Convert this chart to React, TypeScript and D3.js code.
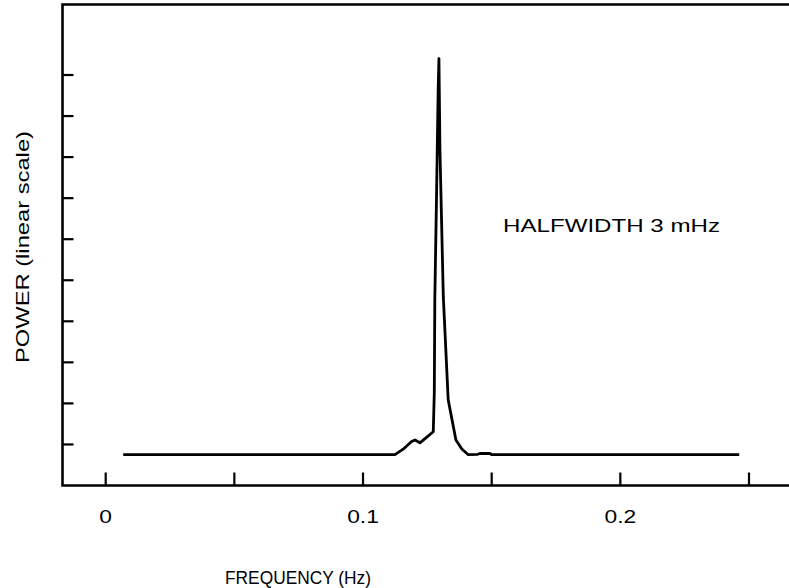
import React from "react";
import * as d3 from "d3";

// Power spectrum: frequency (Hz) vs power (linear scale, arbitrary units)
const frequency: number[] = [
  0.0068, 0.1124, 0.1159, 0.1189, 0.1202, 0.1221, 0.1248, 0.1273, 0.1277,
  0.1279, 0.1286, 0.1292, 0.1295, 0.1299, 0.1312, 0.1331, 0.1361, 0.1384,
  0.1409, 0.1446, 0.1454, 0.1493, 0.1501, 0.2462,
];
const power: number[] = [
  0.75, 0.75, 0.9, 1.07, 1.11, 1.04, 1.18, 1.31, 2.26,
  4.52, 7.19, 9.63, 10.4, 8.17, 4.6, 2.09, 1.11, 0.89,
  0.75, 0.76, 0.78, 0.78, 0.75, 0.75,
];

const xTicks: number[] = [0, 0.05, 0.1, 0.15, 0.2, 0.25];
const xTickLabels: string[] = ["0", "0.1", "0.2"];
const xLabelValues: number[] = [0, 0.1, 0.2];
const yTicks: number[] = [1, 2, 3, 4, 5, 6, 7, 8, 9, 10];

const annotation = "HALFWIDTH 3 mHz";
const xTitle = "FREQUENCY (Hz)";
const yTitle = "POWER (linear scale)";

const W = 789;
const H = 588;
const FONT = "'Liberation Sans', Arial, Helvetica, sans-serif";

export default function App() {
  const x = d3.scaleLinear().domain([0, 0.25]).range([105.7, 749]);
  const y = d3.scaleLinear().domain([0, 10]).range([485.5, 75]);

  const left = 62.5;
  const top = 4.5;
  const bottom = y(0);

  const pts = frequency.map((f, i) => [f, power[i]] as [number, number]);
  const line = d3
    .line<[number, number]>()
    .x((d) => x(d[0]))
    .y((d) => y(d[1]));

  return (
    <svg
      width={W}
      height={H}
      style={{ position: "absolute", left: 0, top: 0, background: "#fff" }}
    >
      <rect x={0} y={0} width={W} height={H} fill="#fff" />
      {/* frame: open on the right */}
      <path
        d={`M${W + 5},${top}H${left}V${bottom}H${W + 5}`}
        fill="none"
        stroke="#000"
        strokeWidth={2.6}
      />
      {xTicks.map((t) => (
        <line
          key={"xt" + t}
          x1={x(t)}
          x2={x(t)}
          y1={bottom}
          y2={bottom - 13}
          stroke="#000"
          strokeWidth={2.2}
        />
      ))}
      {yTicks.map((t) => (
        <line
          key={"yt" + t}
          x1={left}
          x2={left + 11}
          y1={y(t)}
          y2={y(t)}
          stroke="#000"
          strokeWidth={2.2}
        />
      ))}
      {xLabelValues.map((v, i) => (
        <text
          key={"xl" + v}
          transform={`translate(${x(v)},523) scale(1.2,1)`}
          textAnchor="middle"
          fontFamily={FONT}
          fontSize={19}
          fill="#000"
        >
          {xTickLabels[i]}
        </text>
      ))}
      <path
        d={line(pts) ?? ""}
        fill="none"
        stroke="#000"
        strokeWidth={2.8}
        strokeLinejoin="round"
      />
      <text
        x={503}
        y={232}
        fontFamily={FONT}
        fontSize={19}
        textLength={217}
        lengthAdjust="spacingAndGlyphs"
        fill="#000"
      >
        {annotation}
      </text>
      <text
        x={298}
        y={584}
        textAnchor="middle"
        fontFamily={FONT}
        fontSize={18}
        textLength={146}
        lengthAdjust="spacingAndGlyphs"
        fill="#000"
      >
        {xTitle}
      </text>
      <text
        transform={`translate(29,247) rotate(-90)`}
        textAnchor="middle"
        fontFamily={FONT}
        fontSize={19}
        textLength={232}
        lengthAdjust="spacingAndGlyphs"
        fill="#000"
      >
        {yTitle}
      </text>
    </svg>
  );
}
